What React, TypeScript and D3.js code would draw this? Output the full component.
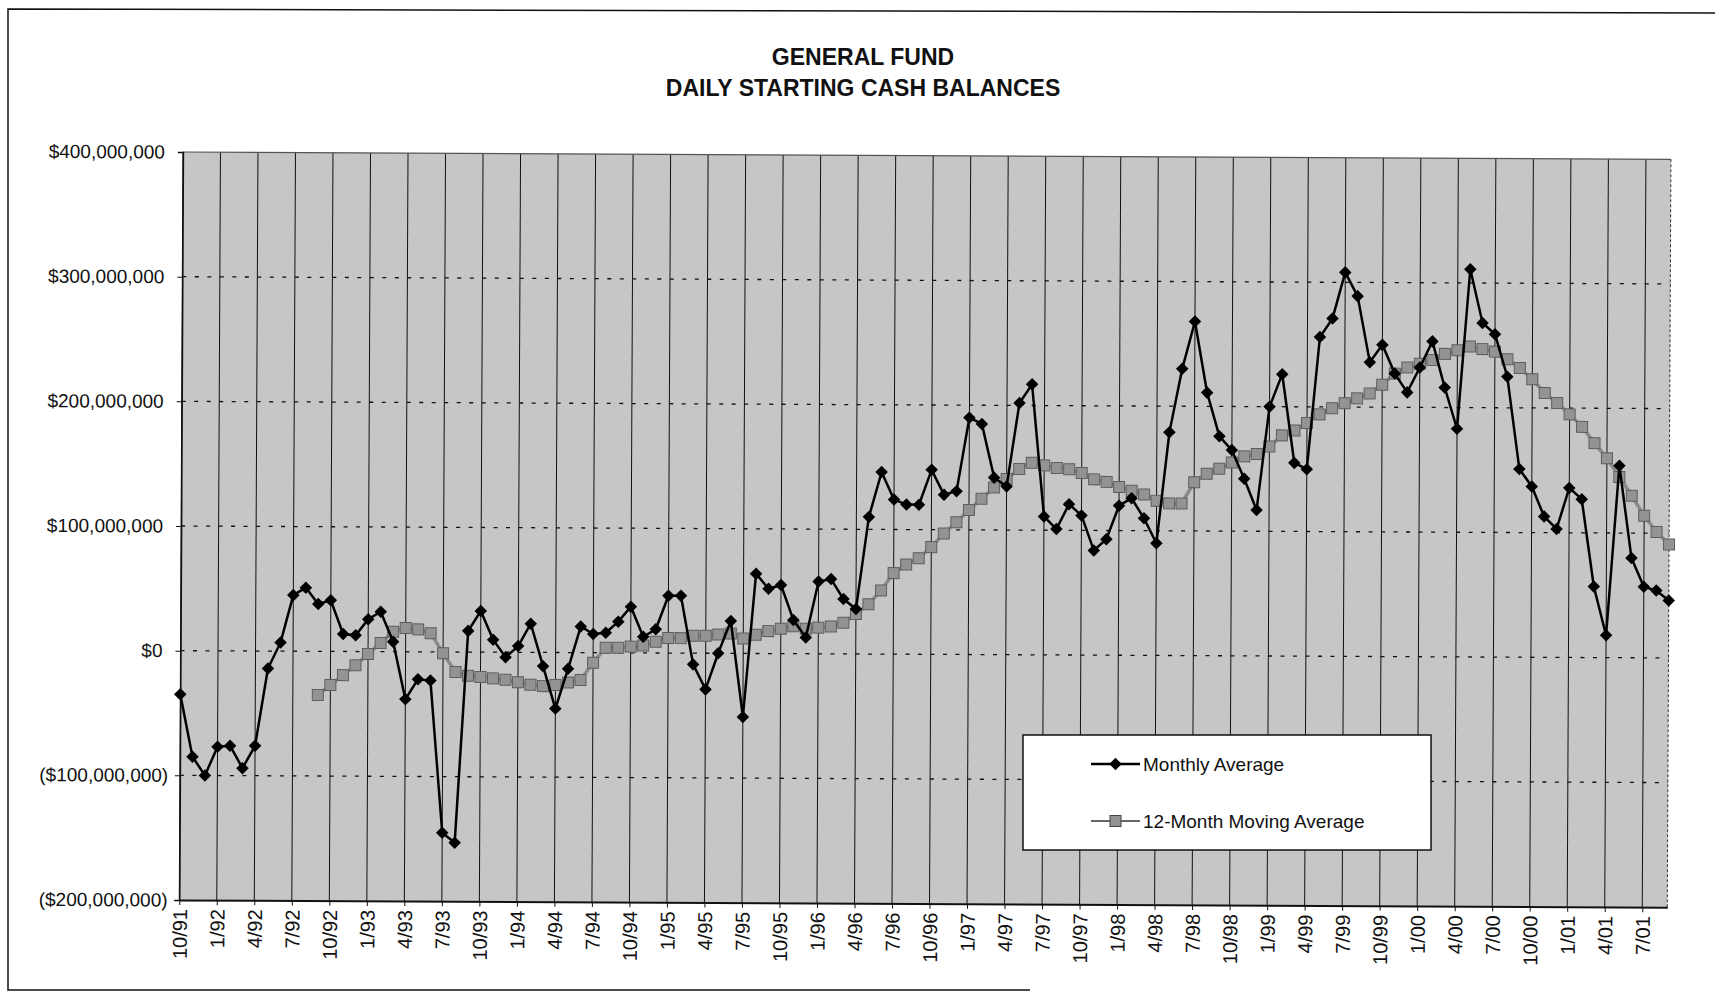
import React, { Component } from "react";
import * as d3 from "d3";

// x-axis tick labels, one every 3 months (10/91 .. 7/01)
const tickLabels = [
  "10/91", "1/92", "4/92", "7/92", "10/92", "1/93", "4/93", "7/93", "10/93", "1/94",
  "4/94", "7/94", "10/94", "1/95", "4/95", "7/95", "10/95", "1/96", "4/96", "7/96",
  "10/96", "1/97", "4/97", "7/97", "10/97", "1/98", "4/98", "7/98", "10/98", "1/99",
  "4/99", "7/99", "10/99", "1/00", "4/00", "7/00", "10/00", "1/01", "4/01", "7/01",
];

// monthly values in $ millions, 10/91 .. 9/01
const monthlyAverage = [
  -35, -85, -100, -77, -76, -94, -76, -14, 7, 45,
  51, 38, 41, 14, 13, 26, 32, 8, -38, -22,
  -23, -145, -153, 17, 33, 10, -4, 5, 23, -11,
  -45, -13, 21, 15, 16, 25, 37, 13, 19, 46,
  46, -9, -29, 0, 26, -51, 64, 52, 55, 27,
  13, 58, 60, 44, 36, 110, 146, 124, 120, 120,
  148, 128, 131, 190, 185, 142, 135, 202, 217, 111,
  101, 121, 112, 84, 93, 120, 126, 110, 90, 179,
  230, 268, 211, 176, 165, 142, 117, 200, 226, 155,
  150, 256, 271, 308, 289, 236, 250, 227, 212, 232,
  253, 216, 183, 311, 268, 259, 225, 151, 137, 113,
  103, 136, 127, 57, 18, 154, 80, 57, 54, 46,
];

const movingAverage = [
  null, null, null, null, null, null, null, null, null, null,
  null, -35, -27, -19, -11, -2, 7, 16, 19, 18,
  15, -1, -16, -19, -20, -21, -22, -24, -26, -27,
  -26, -24, -22, -8, 4, 4, 5, 6, 9, 12,
  12, 14, 14, 15, 16, 12, 15, 18, 20, 22,
  20, 21, 22, 25, 32, 40, 51, 65, 72, 77,
  86, 97, 106, 116, 125, 134, 141, 149, 154, 152,
  150, 149, 146, 141, 139, 135, 132, 129, 124, 122,
  122, 139, 146, 150, 155, 160, 162, 168, 177, 181,
  187, 194, 199, 203, 207, 211, 218, 227, 232, 235,
  238, 243, 246, 249, 247, 245, 239, 232, 223, 212,
  204, 195, 185, 172, 160, 145, 130, 114, 101, 91,
];

const yTicks = [-200e6, -100e6, 0, 100e6, 200e6, 300e6, 400e6];

const FONT = "'Liberation Sans', Arial, Helvetica, sans-serif";

class App extends Component {
  svg: SVGSVGElement | null = null;

  componentDidMount() {
    this.drawChart();
  }

  drawChart() {
    const width = 1715;
    const height = 996;
    const plot = { left: 180.5, right: 1668.5, top: 152, bottom: 900 };
    // the scanned page is turned a little clockwise
    const skew = 0.28;

    const svg = d3.select(this.svg);
    svg.selectAll("*").remove();
    svg.attr("width", width).attr("height", height);

    svg.append("rect").attr("width", width).attr("height", height).attr("fill", "#ffffff");

    // outer frame
    svg.append("path")
      .attr("d", `M1715,13 L8,9 L8,990 L1030,990`)
      .attr("fill", "none")
      .attr("stroke", "#111")
      .attr("stroke-width", 1.5);

    // titles
    svg.append("text")
      .attr("x", 863).attr("y", 65)
      .attr("text-anchor", "middle")
      .style("font-family", FONT).style("font-size", "23px").style("font-weight", "bold")
      .attr("fill", "#111")
      .text("GENERAL FUND");
    svg.append("text")
      .attr("x", 863).attr("y", 96)
      .attr("text-anchor", "middle")
      .style("font-family", FONT).style("font-size", "23px").style("font-weight", "bold")
      .attr("fill", "#111")
      .text("DAILY STARTING CASH BALANCES");

    const idx = d3.range(monthlyAverage.length);

    const xScale = d3.scalePoint<number>()
      .domain(idx)
      .range([plot.left, plot.right])
      .padding(0);

    const yScale = d3.scaleLinear()
      .domain([-200e6, 400e6])
      .range([plot.bottom, plot.top]);

    const chart = svg.append("g")
      .attr("transform", `rotate(${skew},${plot.left},${yScale(0)})`);

    // plot background
    chart.append("rect")
      .attr("x", plot.left).attr("y", plot.top)
      .attr("width", plot.right - plot.left)
      .attr("height", plot.bottom - plot.top)
      .attr("fill", "#c6c6c6");

    const tickIdx = tickLabels.map((_, i) => i * 3);

    // vertical gridlines
    chart.append("g").selectAll("line")
      .data(tickIdx)
      .enter().append("line")
      .attr("x1", d => xScale(d) as number).attr("x2", d => xScale(d) as number)
      .attr("y1", plot.top).attr("y2", plot.bottom)
      .attr("stroke", "#111").attr("stroke-width", 1);

    // right edge of plot
    chart.append("line")
      .attr("x1", plot.right).attr("x2", plot.right)
      .attr("y1", plot.top).attr("y2", plot.bottom)
      .attr("stroke", "#333").attr("stroke-width", 1)
      .attr("stroke-dasharray", "3,2");

    // horizontal gridlines
    chart.append("g").selectAll("line")
      .data(yTicks.filter(t => t > -200e6 && t < 400e6))
      .enter().append("line")
      .attr("x1", plot.left).attr("x2", plot.right)
      .attr("y1", d => yScale(d)).attr("y2", d => yScale(d))
      .attr("stroke", "#111").attr("stroke-width", 1.3)
      .attr("stroke-dasharray", "4,8.5");

    // top edge
    chart.append("line")
      .attr("x1", plot.left).attr("x2", plot.right)
      .attr("y1", plot.top).attr("y2", plot.top)
      .attr("stroke", "#555").attr("stroke-width", 1.2);

    // axes
    const fmt = d3.format("$,");
    const yAxis = chart.append("g")
      .attr("transform", `translate(${plot.left},0)`)
      .call(d3.axisLeft(yScale).tickValues(yTicks).tickSize(5).tickPadding(13)
        .tickFormat(v => (+v < 0 ? `(${fmt(-v)})` : fmt(+v))));
    yAxis.selectAll("text")
      .style("font-family", FONT).style("font-size", "19px").attr("fill", "#111");
    // negative labels: closing paren hangs past the right edge
    yAxis.selectAll<SVGTextElement, number>("text")
      .filter(d => d < 0)
      .attr("dx", "0.333em");
    yAxis.selectAll("line").attr("stroke", "#111");
    yAxis.select(".domain").attr("stroke", "#111").attr("stroke-width", 1.5);

    const xAxis = chart.append("g")
      .attr("transform", `translate(0,${plot.bottom})`)
      .call(d3.axisBottom(xScale).tickValues(tickIdx).tickSize(5).tickSizeOuter(0)
        .tickFormat(d => tickLabels[(d as number) / 3]));
    xAxis.select(".domain").attr("stroke", "#111").attr("stroke-width", 2);
    xAxis.selectAll("line").attr("stroke", "#111");
    xAxis.selectAll("text")
      .style("font-family", FONT).style("font-size", "20px").attr("fill", "#111")
      .attr("text-anchor", "end")
      .attr("transform", "rotate(-90)")
      .attr("x", -9).attr("y", 0).attr("dy", "0.36em");

    // 12-month moving average
    const mvData = idx.filter(i => movingAverage[i] != null);
    const mvLine = d3.line<number>()
      .x(i => xScale(i) as number)
      .y(i => yScale((movingAverage[i] as number) * 1e6));
    chart.append("path")
      .datum(mvData)
      .attr("d", mvLine)
      .attr("fill", "none")
      .attr("stroke", "#8a8a8a")
      .attr("stroke-width", 3.5);
    chart.append("g").selectAll("rect")
      .data(mvData)
      .enter().append("rect")
      .attr("x", i => (xScale(i) as number) - 5.5)
      .attr("y", i => yScale((movingAverage[i] as number) * 1e6) - 5.5)
      .attr("width", 11).attr("height", 11)
      .attr("fill", "#939393")
      .attr("stroke", "#5e5e5e").attr("stroke-width", 1);

    // monthly average
    const mLine = d3.line<number>()
      .x(i => xScale(i) as number)
      .y(i => yScale(monthlyAverage[i] * 1e6));
    chart.append("path")
      .datum(idx)
      .attr("d", mLine)
      .attr("fill", "none")
      .attr("stroke", "#000")
      .attr("stroke-width", 2.5);
    const diamond = d3.symbol().type(d3.symbolDiamond2).size(100);
    chart.append("g").selectAll("path")
      .data(idx)
      .enter().append("path")
      .attr("d", diamond)
      .attr("transform", i => `translate(${xScale(i)},${yScale(monthlyAverage[i] * 1e6)})`)
      .attr("fill", "#000");

    // legend
    const legend = svg.append("g").attr("transform", "translate(1023,735)");
    legend.append("rect")
      .attr("width", 408).attr("height", 115)
      .attr("fill", "#fff").attr("stroke", "#111").attr("stroke-width", 1.5);
    legend.append("line")
      .attr("x1", 68).attr("x2", 117).attr("y1", 29).attr("y2", 29)
      .attr("stroke", "#000").attr("stroke-width", 2.5);
    legend.append("path")
      .attr("d", diamond)
      .attr("transform", "translate(92.5,29)")
      .attr("fill", "#000");
    legend.append("text")
      .attr("x", 120).attr("y", 35.5)
      .style("font-family", FONT).style("font-size", "19px").attr("fill", "#111")
      .text("Monthly Average");
    legend.append("line")
      .attr("x1", 68).attr("x2", 117).attr("y1", 86).attr("y2", 86)
      .attr("stroke", "#666").attr("stroke-width", 2);
    legend.append("rect")
      .attr("x", 87).attr("y", 80.5).attr("width", 11).attr("height", 11)
      .attr("fill", "#939393").attr("stroke", "#444").attr("stroke-width", 1);
    legend.append("text")
      .attr("x", 120).attr("y", 92.5)
      .style("font-family", FONT).style("font-size", "19px").attr("fill", "#111")
      .text("12-Month Moving Average");
  }

  render() {
    return (
      <div>
        <svg
          ref={el => { this.svg = el; }}
          style={{ position: "absolute", left: 0, top: 0, display: "block" }}
        />
      </div>
    );
  }
}

export default App;
